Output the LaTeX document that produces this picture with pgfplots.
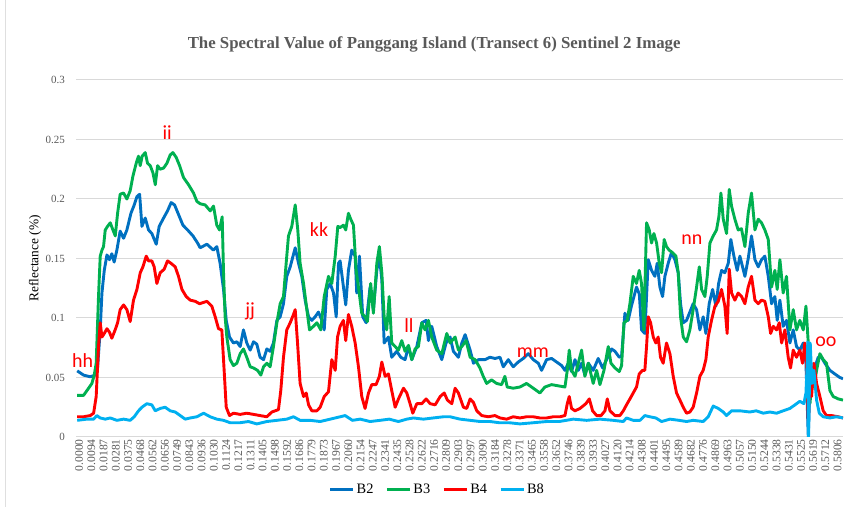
\documentclass[border=0pt]{standalone}
\usepackage{fontspec}
\setmainfont{Liberation Serif}
\newfontfamily\calibri{Carlito}
\usepackage{pgfplots}
\pgfplotsset{compat=1.18}
\definecolor{cB2}{HTML}{0070C0}
\definecolor{cB3}{HTML}{00B050}
\definecolor{cB4}{HTML}{FF0000}
\definecolor{cB8}{HTML}{00B0F0}
\definecolor{txtgray}{HTML}{595959}
\definecolor{gridgray}{HTML}{D9D9D9}

\begin{document}
\begin{tikzpicture}
\useasboundingbox (0,0) rectangle (422.5pt,253.5pt);
\draw[gray!25, line width=0.4pt] (2.5pt,0) -- (2.5pt,253.5pt);
\begin{axis}[
  at={(38pt,35pt)}, anchor=south west,
  scale only axis, width=383.5pt, height=178.5pt,
  xmin=-0.1, xmax=62.6, ymin=0, ymax=0.3,
  clip mode=individual,
  axis line style={draw=none},
  major tick length=0pt,
  ymajorgrids, grid style={draw=gridgray, line width=0.5pt},
  ytick={0,0.05,0.1,0.15,0.2,0.25,0.3},
  yticklabels={0,0.05,0.1,0.15,0.2,0.25,0.3},
  yticklabel style={font=\fontsize{5.5}{6}\selectfont, text=txtgray, xshift=-2pt},
  xtick={0,...,62},
  xticklabels={0.0000,0.0094,0.0187,0.0281,0.0375,0.0468,0.0562,0.0656,0.0749,0.0843,0.0936,0.1030,0.1124,0.1217,0.1311,0.1405,0.1498,0.1592,0.1686,0.1779,0.1873,0.1967,0.2060,0.2154,0.2247,0.2341,0.2435,0.2528,0.2622,0.2716,0.2809,0.2903,0.2997,0.3090,0.3184,0.3278,0.3371,0.3465,0.3558,0.3652,0.3746,0.3839,0.3933,0.4027,0.4120,0.4214,0.4308,0.4401,0.4495,0.4589,0.4682,0.4776,0.4869,0.4963,0.5057,0.5150,0.5244,0.5338,0.5431,0.5525,0.5619,0.5712,0.5806},
  xticklabel style={rotate=90, anchor=east, font=\fontsize{5.8}{6}\selectfont, text=txtgray, inner sep=1pt, yshift=-1pt},
  ylabel={Reflectance (\%)},
  ylabel style={at={(axis description cs:-0.0535,0.5)}, anchor=center, font=\fontsize{6.7}{8}\selectfont},
  title={The Spectral Value of Panggang Island (Transect 6) Sentinel 2 Image},
  title style={at={(axis description cs:0.467,1)}, anchor=center, yshift=12pt, font=\fontsize{8.4}{10}\selectfont\bfseries, text=txtgray},
  legend columns=4,
  legend style={at={(axis description cs:0.471,-0.148)}, anchor=center, draw=none, fill=none,
    font=\fontsize{7.2}{9}\selectfont, nodes={inner xsep=1pt},
    /tikz/every even column/.append style={column sep=5pt}},
  legend image code/.code={\draw[#1, line width=1.5pt] (0pt,0pt) -- (11.5pt,0pt);},
  every axis plot/.append style={line width=1.45pt, line join=round, mark=none},
]
% B2
\addplot[cB2] coordinates {
(0,0.0556)(0.52,0.052)(1.06,0.0506)(1.47,0.052)(1.66,0.0576)(1.88,0.09)(2.02,0.121)(2.21,0.14)(2.43,0.153)(2.64,0.149)(2.83,0.154)(3.02,0.147)(3.24,0.157)(3.51,0.173)(3.79,0.167)(4.06,0.174)(4.39,0.188)(4.66,0.195)(4.88,0.202)(5.10,0.204)(5.29,0.177)(5.56,0.184)(5.83,0.174)(6.10,0.171)(6.46,0.162)(6.70,0.177)(7.06,0.184)(7.38,0.190)(7.68,0.197)(7.96,0.195)(8.28,0.187)(8.64,0.178)(9.02,0.174)(9.46,0.169)(9.84,0.163)
(10.05,0.159)(10.6,0.162)(11.14,0.157)(11.41,0.16)(11.68,0.146)(11.96,0.124)(12.18,0.098)(12.45,0.084)(12.77,0.079)(13.05,0.08)(13.32,0.076)(13.59,0.09)(13.86,0.079)(14.14,0.073)(14.41,0.08)(14.68,0.078)(14.95,0.067)(15.23,0.065)(15.5,0.074)(15.77,0.072)(16.04,0.079)(16.32,0.098)(16.59,0.101)(16.86,0.112)(17.13,0.135)(17.41,0.143)(17.82,0.159)(18.09,0.146)(18.36,0.135)(18.63,0.115)(18.91,0.101)(19.18,0.098)(19.45,0.101)(19.72,0.105)(20.0,0.098)(20.19,0.09)(20.4,0.124)(20.68,0.129)(20.95,0.121)(21.17,0.101)(21.36,0.146)
(21.49,0.148)(21.95,0.111)(22.17,0.14)(22.44,0.157)(22.72,0.152)(22.85,0.121)(23.07,0.152)(23.34,0.101)(23.62,0.096)(23.94,0.126)(24.21,0.107)(24.49,0.14)(24.7,0.152)(24.9,0.132)(25.09,0.079)(25.44,0.084)(25.71,0.067)(26.12,0.072)(26.45,0.067)(26.8,0.065)(27.08,0.076)(27.35,0.065)(27.76,0.076)(28.17,0.096)(28.52,0.098)(28.71,0.081)(28.98,0.093)(29.39,0.076)(29.8,0.065)(30.15,0.079)(30.48,0.084)(30.75,0.072)(31.16,0.067)(31.44,0.079)(31.71,0.086)(32.12,0.073)(32.39,0.062)(32.8,0.065)
(33.33,0.065)(33.74,0.067)(34.15,0.066)(34.56,0.067)(34.83,0.059)(35.24,0.065)(35.64,0.059)(36.05,0.063)(36.46,0.066)(36.87,0.07)(37.28,0.065)(37.69,0.062)(37.96,0.056)(38.37,0.065)(38.78,0.066)(39.19,0.063)(39.6,0.06)(39.87,0.056)(40.14,0.062)(40.41,0.055)(40.69,0.065)(40.96,0.056)(41.23,0.062)(41.5,0.052)(41.78,0.062)(42.18,0.056)(42.59,0.066)(42.95,0.058)(43.27,0.065)(43.68,0.074)(43.96,0.072)(44.31,0.067)
(44.5,0.068)(44.77,0.104)(45.04,0.098)(45.3,0.11)(45.72,0.126)(45.95,0.12)(46.13,0.09)(46.4,0.087)(46.68,0.149)(46.95,0.14)(47.22,0.135)(47.41,0.146)(47.63,0.126)(47.85,0.118)(48.04,0.135)(48.31,0.146)(48.58,0.155)(48.86,0.149)(49.13,0.138)(49.32,0.112)(49.54,0.096)(49.81,0.098)(50.08,0.105)(50.35,0.112)(50.63,0.107)(50.9,0.09)(51.17,0.101)(51.39,0.087)(51.66,0.112)(51.94,0.124)(52.21,0.11)(52.43,0.129)(52.67,0.14)(52.94,0.138)(53.22,0.146)(53.43,0.166)(53.68,0.152)(53.95,0.14)
(54.17,0.152)(54.58,0.135)(54.85,0.15)(55.12,0.169)(55.4,0.149)(55.67,0.143)(55.94,0.149)(56.21,0.152)(56.49,0.135)(56.76,0.112)(57.03,0.118)(57.22,0.098)(57.44,0.115)(57.71,0.093)(57.98,0.098)(58.26,0.079)(58.53,0.09)(58.8,0.076)(59.07,0.073)(59.35,0.079)(59.57,0.062)(59.76,0.0)(59.95,0.062)(60.16,0.045)(60.35,0.06)(60.57,0.067)(60.84,0.067)(61.12,0.062)(61.53,0.056)(61.93,0.053)(62.34,0.05)(62.6,0.049)
};
\addlegendentry{B2}
% B3
\addplot[cB3] coordinates {
(0,0.035)(0.52,0.035)(0.93,0.041)(1.2,0.045)(1.39,0.052)(1.55,0.062)(1.74,0.118)(1.88,0.152)(2.02,0.157)(2.15,0.16)(2.29,0.174)(2.48,0.177)(2.7,0.18)(2.92,0.174)(3.11,0.169)(3.3,0.188)(3.51,0.204)(3.79,0.205)(4.06,0.2)(4.33,0.207)(4.55,0.219)(4.82,0.23)(5.01,0.236)(5.15,0.228)(5.31,0.236)(5.56,0.239)(5.75,0.23)(5.97,0.228)(6.19,0.222)(6.38,0.212)(6.57,0.228)(6.78,0.225)(7.06,0.226)(7.33,0.23)(7.6,0.237)(7.82,0.239)(8.09,0.235)(8.37,0.228)(8.69,0.218)(9.1,0.212)(9.51,0.205)(9.78,0.198)
(10.05,0.196)(10.46,0.195)(10.87,0.19)(11.14,0.194)(11.41,0.178)(11.63,0.174)(11.85,0.185)(11.96,0.138)(12.09,0.101)(12.23,0.084)(12.5,0.065)(12.77,0.06)(13.05,0.062)(13.32,0.07)(13.59,0.074)(13.86,0.067)(14.14,0.059)(14.41,0.058)(14.74,0.056)(15.01,0.052)(15.23,0.059)(15.5,0.062)(15.77,0.059)(16.04,0.076)(16.32,0.096)(16.59,0.112)(16.86,0.118)(17.08,0.146)(17.27,0.169)(17.54,0.177)(17.82,0.195)(18.03,0.174)(18.22,0.146)(18.5,0.129)(18.77,0.107)(18.99,0.09)(19.31,0.093)(19.59,0.096)(19.91,0.09)(20.19,0.118)(20.54,0.135)(20.81,0.129)(21.09,0.152)(21.3,0.177)
(21.49,0.176)(21.76,0.178)(21.95,0.174)(22.17,0.188)(22.36,0.183)(22.58,0.178)(22.8,0.14)(22.99,0.126)(23.26,0.104)(23.53,0.101)(23.72,0.097)(23.99,0.129)(24.21,0.104)(24.49,0.146)(24.7,0.16)(24.9,0.138)(25.09,0.101)(25.3,0.09)(25.5,0.118)(25.71,0.079)(25.99,0.076)(26.26,0.073)(26.53,0.081)(26.8,0.072)(27.08,0.077)(27.35,0.065)(27.62,0.074)(27.89,0.076)(28.17,0.096)(28.44,0.09)(28.71,0.098)(28.98,0.084)(29.39,0.073)(29.8,0.07)(30.21,0.087)(30.48,0.079)(30.89,0.084)(31.16,0.073)(31.44,0.076)(31.79,0.081)(32.12,0.067)(32.53,0.065)
(32.92,0.058)(33.19,0.051)(33.47,0.045)(33.87,0.048)(34.28,0.045)(34.69,0.044)(34.96,0.051)(35.15,0.042)(35.64,0.041)(36.19,0.042)(36.73,0.045)(37.28,0.041)(37.82,0.037)(38.23,0.042)(38.78,0.044)(39.32,0.043)(39.87,0.042)(40.06,0.056)(40.22,0.073)(40.41,0.056)(40.69,0.051)(40.96,0.062)(41.23,0.073)(41.5,0.051)(41.78,0.062)(42.18,0.045)(42.46,0.056)(42.73,0.044)(43.06,0.056)(43.41,0.076)(43.63,0.062)(43.96,0.058)(44.31,0.055)
(44.5,0.06)(44.69,0.096)(44.96,0.098)(45.18,0.112)(45.45,0.135)(45.72,0.129)(45.94,0.14)(46.13,0.129)(46.32,0.09)(46.54,0.18)(46.76,0.174)(46.95,0.163)(47.14,0.171)(47.36,0.163)(47.58,0.146)(47.77,0.138)(47.98,0.166)(48.17,0.16)(48.39,0.157)(48.66,0.155)(48.94,0.152)(49.13,0.138)(49.32,0.101)(49.54,0.084)(49.81,0.08)(50.08,0.09)(50.35,0.107)(50.63,0.126)(50.85,0.143)(51.04,0.124)(51.31,0.118)(51.5,0.135)(51.72,0.163)(51.99,0.169)(52.26,0.174)(52.45,0.185)(52.62,0.205)(52.81,0.183)(53.08,0.171)(53.3,0.208)(53.49,0.194)(53.76,0.183)(54.03,0.174)
(54.3,0.175)(54.58,0.16)(54.85,0.188)(55.12,0.205)(55.4,0.174)(55.67,0.183)(55.94,0.18)(56.21,0.174)(56.49,0.166)(56.76,0.126)(57.03,0.14)(57.22,0.124)(57.44,0.149)(57.71,0.121)(57.98,0.135)(58.26,0.09)(58.53,0.107)(58.8,0.09)(59.07,0.098)(59.35,0.09)(59.57,0.11)(59.76,0.079)(59.9,0.028)(60.03,0.045)(60.22,0.042)(60.44,0.056)(60.71,0.07)(60.98,0.065)(61.25,0.062)(61.53,0.039)(61.8,0.034)(62.21,0.032)(62.6,0.031)
};
\addlegendentry{B3}
% B4
\addplot[cB4] coordinates {
(0,0.017)(0.52,0.017)(1.06,0.018)(1.34,0.02)(1.55,0.034)(1.74,0.076)(1.88,0.096)(2.02,0.084)(2.21,0.087)(2.43,0.091)(2.64,0.088)(2.83,0.083)(3.1,0.09)(3.3,0.096)(3.51,0.107)(3.79,0.111)(4.06,0.107)(4.33,0.097)(4.6,0.115)(4.88,0.124)(5.15,0.138)(5.37,0.143)(5.64,0.152)(5.83,0.148)(6.1,0.148)(6.29,0.143)(6.51,0.129)(6.78,0.138)(7.11,0.141)(7.38,0.148)(7.66,0.146)(8.01,0.143)(8.28,0.135)(8.56,0.124)(8.91,0.118)(9.24,0.115)(9.65,0.114)(10.0,0.112)
(10.6,0.114)(11.0,0.11)(11.28,0.101)(11.55,0.091)(11.82,0.09)(12.01,0.056)(12.18,0.025)(12.45,0.018)(12.77,0.02)(13.32,0.019)(13.86,0.02)(14.41,0.019)(14.95,0.018)(15.5,0.017)(15.91,0.021)(16.45,0.023)(16.64,0.039)(16.86,0.067)(17.13,0.09)(17.41,0.096)(17.68,0.103)(17.82,0.107)(18.01,0.079)(18.22,0.045)(18.5,0.034)(18.72,0.037)(18.91,0.027)(19.18,0.022)(19.59,0.022)(19.86,0.025)(20.19,0.034)(20.54,0.038)(20.81,0.065)(21.09,0.056)(21.28,0.084)
(21.49,0.093)(21.76,0.098)(21.95,0.081)(22.17,0.103)(22.44,0.093)(22.72,0.079)(22.99,0.059)(23.26,0.034)(23.53,0.024)(23.81,0.037)(24.08,0.044)(24.43,0.044)(24.7,0.051)(24.9,0.063)(25.17,0.051)(25.44,0.053)(25.71,0.039)(25.99,0.025)(26.26,0.032)(26.67,0.041)(26.94,0.037)(27.21,0.028)(27.43,0.02)(27.76,0.028)(28.17,0.028)(28.52,0.032)(28.85,0.028)(29.26,0.027)(29.67,0.034)(30.0,0.037)(30.26,0.031)(30.62,0.028)(30.89,0.041)(31.16,0.037)(31.57,0.025)(31.84,0.024)(32.12,0.032)(32.39,0.029)(32.66,0.022)(33.07,0.018)
(33.6,0.017)(34.15,0.018)(34.56,0.016)(35.1,0.015)(35.64,0.017)(36.19,0.016)(36.73,0.017)(37.28,0.017)(37.82,0.016)(38.37,0.016)(38.91,0.017)(39.46,0.017)(39.87,0.018)(40.06,0.028)(40.22,0.034)(40.41,0.024)(40.69,0.022)(41.1,0.024)(41.58,0.028)(41.86,0.032)(42.13,0.022)(42.46,0.018)(42.82,0.018)(43.14,0.022)(43.33,0.032)(43.55,0.022)(43.96,0.018)(44.36,0.018)
(44.64,0.022)(44.9,0.027)(45.18,0.032)(45.45,0.037)(45.72,0.042)(45.94,0.053)(46.21,0.056)(46.4,0.056)(46.54,0.076)(46.68,0.101)(46.87,0.096)(47.09,0.084)(47.3,0.079)(47.49,0.084)(47.68,0.067)(47.9,0.062)(48.17,0.079)(48.45,0.07)(48.72,0.051)(48.99,0.037)(49.27,0.031)(49.54,0.025)(49.81,0.02)(50.08,0.021)(50.35,0.025)(50.63,0.037)(50.9,0.051)(51.17,0.056)(51.39,0.065)(51.58,0.084)(51.85,0.098)(52.13,0.11)(52.4,0.114)(52.67,0.124)(52.94,0.11)(53.13,0.087)(53.3,0.141)(53.49,0.121)(53.76,0.115)(54.03,0.121)
(54.31,0.118)(54.58,0.112)(54.85,0.126)(55.12,0.135)(55.4,0.115)(55.67,0.112)(55.94,0.115)(56.21,0.114)(56.49,0.101)(56.68,0.087)(56.9,0.093)(57.17,0.09)(57.39,0.096)(57.58,0.079)(57.85,0.09)(58.12,0.067)(58.31,0.058)(58.53,0.073)(58.8,0.067)(59.07,0.073)(59.29,0.062)(59.48,0.079)(59.62,0.062)(59.76,0.014)(59.9,0.051)(60.03,0.034)(60.22,0.062)(60.44,0.045)(60.71,0.034)(60.98,0.022)(61.25,0.018)(61.66,0.018)(62.21,0.017)(62.6,0.016)
};
\addlegendentry{B4}
% B8
\addplot[cB8] coordinates {
(0,0.014)(0.79,0.015)(1.34,0.015)(1.6,0.018)(1.88,0.016)(2.29,0.015)(2.7,0.016)(3.24,0.014)(3.79,0.015)(4.33,0.014)(4.66,0.017)(5.01,0.022)(5.29,0.025)(5.69,0.028)(6.1,0.027)(6.38,0.022)(6.78,0.024)(7.19,0.025)(7.6,0.022)(8.01,0.021)(8.42,0.018)(8.83,0.015)(9.24,0.016)(9.78,0.017)(10.33,0.02)(10.87,0.017)(11.41,0.015)(11.96,0.014)(12.5,0.012)(13.32,0.012)(14.0,0.013)(14.68,0.011)(15.5,0.013)(16.32,0.014)(17.13,0.015)(17.68,0.017)(18.22,0.014)(19.04,0.014)(19.86,0.013)(20.68,0.015)(21.5,0.017)(21.9,0.018)(22.5,0.014)(23.13,0.015)(23.94,0.013)(24.76,0.014)(25.5,0.015)(26.26,0.013)(26.94,0.015)(27.48,0.016)(28.3,0.015)(29.1,0.016)(29.94,0.017)(30.48,0.017)(31.3,0.015)(32.12,0.014)(32.93,0.013)(33.75,0.013)(34.5,0.012)(35.3,0.012)(36.19,0.011)(37.3,0.012)(38.37,0.013)(39.4,0.013)(40.55,0.015)(41.64,0.014)(42.73,0.015)(43.82,0.014)(44.64,0.013)(44.9,0.016)(45.45,0.014)(46.0,0.014)(46.4,0.018)(46.81,0.017)(47.3,0.016)(47.77,0.013)(48.45,0.015)(49.2,0.014)(49.81,0.013)(50.35,0.014)(51.17,0.013)(51.58,0.017)(51.99,0.026)(52.4,0.024)(52.81,0.021)(53.08,0.018)(53.49,0.022)(54.17,0.022)(54.99,0.021)(55.5,0.022)(56.08,0.02)(56.62,0.021)(57.17,0.02)(57.71,0.022)(58.26,0.024)(58.67,0.027)(59.07,0.03)(59.4,0.028)(59.57,0.037)(59.67,0.062)(59.72,0.08)(59.78,0.0)(59.92,0.079)(60.06,0.045)(60.22,0.056)(60.44,0.031)(60.66,0.02)(60.98,0.017)(61.53,0.016)(62.07,0.017)(62.6,0.016)
};
\addlegendentry{B8}
\begin{scope}[every node/.style={font=\calibri\fontsize{10}{12}\selectfont, text=cB4, inner sep=0pt}]
\node at (axis cs:0.45,0.064) {hh};
\node at (axis cs:7.35,0.256) {ii};
\node at (axis cs:14.13,0.106) {jj};
\node at (axis cs:19.77,0.174) {kk};
\node at (axis cs:27.12,0.094) {ll};
\node at (axis cs:37.25,0.071) {mm};
\node at (axis cs:50.24,0.166) {nn};
\node at (axis cs:61.2,0.080) {oo};
\end{scope}
\end{axis}
\end{tikzpicture}
\end{document}
